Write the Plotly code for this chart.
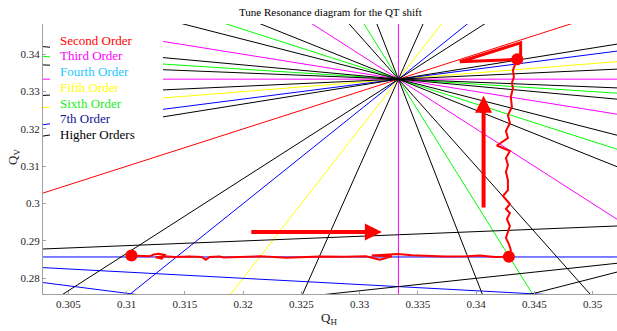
import plotly.graph_objects as go

# ---- axis window ----
x_range = [0.30283, 0.35209]
y_range = [0.2758, 0.3481]
x_tick_vals = [0.305, 0.31, 0.315, 0.32, 0.325, 0.33, 0.335, 0.34, 0.345, 0.35]
x_tick_text = ["0.305", "0.31", "0.315", "0.32", "0.325", "0.33", "0.335", "0.34", "0.345", "0.35"]
y_tick_vals = [0.28, 0.29, 0.30, 0.31, 0.32, 0.33, 0.34]
y_tick_text = ["0.28", "0.29", "0.3", "0.31", "0.32", "0.33", "0.34"]

# ---- resonance lines  m*Qx + n*Qy = p ----
res_m = [1, 3, 2, 1, 0, 4, 1, 5, 3, 1, 2, 1, 0, 5, 2, 7, 2, 1, 8, 7, 5, 4, 2, 1, 6, 4, 3, 1]
res_n = [-1, 0, 1, 2, 3, -1, -4, 1, 3, 5, 5, 6, 7, -2, -5, -1, -6, -7, 1, 2, 4, 5, 7, 8, -3, -5, -6, -8]
res_p = [0, 1, 1, 1, 1, 1, -1, 2, 2, 2, 2, 2, 2, 1, -1, 2, -1, -2, 3, 3, 3, 3, 3, 3, 1, 0, -1, -2]

legend_labels = ["Second Order", "Third Order", "Fourth Order", "Fifth Order",
                 "Sixth Order", "7th Order", "Higher Orders"]
legend_colors = ["#ff0000", "#ff00ff", "#22c8ff", "#ffff00", "#22ee22", "#141496", "#000000"]
order_line_colors = {2: "#ff0000", 3: "#ff00ff", 4: "#00ccff", 5: "#ffff00",
                     6: "#00ff00", 7: "#0000ff"}

# ---- measured tune path ----
path_qx = [0.31042, 0.31113, 0.31199, 0.31233, 0.31276, 0.31328, 0.31302, 0.31250, 0.31319,
           0.31414, 0.31542, 0.31645, 0.31680, 0.31714, 0.31800, 0.31834, 0.31972, 0.32143,
           0.32375, 0.32487, 0.32659, 0.32873, 0.33054, 0.33174, 0.33277, 0.33105, 0.33225,
           0.33328, 0.33448, 0.33560, 0.33732, 0.33921, 0.34032, 0.34161, 0.34281,
           0.34298, 0.34281, 0.34256, 0.34273, 0.34290, 0.34264, 0.34290, 0.34256, 0.34290,
           0.34230, 0.34273, 0.34273, 0.34256, 0.34273, 0.34256, 0.34290, 0.34178, 0.34273,
           0.34256, 0.34290, 0.34273, 0.34307, 0.34298, 0.34316, 0.34307, 0.34324, 0.34316,
           0.34333, 0.34353]
path_qy = [0.28610, 0.28597, 0.28589, 0.28637, 0.28656, 0.28629, 0.28530, 0.28565, 0.28589,
           0.28570, 0.28584, 0.28570, 0.28495, 0.28570, 0.28584, 0.28557, 0.28570, 0.28589,
           0.28554, 0.28570, 0.28584, 0.28576, 0.28589, 0.28495, 0.28592, 0.28610, 0.28637,
           0.28651, 0.28618, 0.28602, 0.28586, 0.28592, 0.28610, 0.28570, 0.28578,
           0.28758, 0.28918, 0.29079, 0.29240, 0.29400, 0.29588, 0.29748, 0.29855, 0.29989,
           0.30204, 0.30364, 0.30632, 0.30846, 0.31034, 0.31221, 0.31408, 0.31556, 0.31756,
           0.31944, 0.32158, 0.32372, 0.32586, 0.32854, 0.33095, 0.33229, 0.33390, 0.33577,
           0.33711, 0.33864]
tri_qx = [0.34353, 0.33861, 0.34382, 0.34382, 0.34353]
tri_qy = [0.33864, 0.33799, 0.34308, 0.33885, 0.33864]
dot_qx = [0.31042, 0.34281, 0.34353]
dot_qy = [0.28610, 0.28578, 0.33864]

# arrows: (tail_x, tail_y, tip_x, tip_y)
arrow_tail_x = [0.32058, 0.34064]
arrow_tail_y = [0.29240, 0.29855]
arrow_tip_x = [0.33191, 0.34064]
arrow_tip_y = [0.29240, 0.32889]

SERIF = "Liberation Serif"

fig = go.Figure()

# group resonance lines by order
orders = sorted(set(abs(m) + abs(n) for m, n in zip(res_m, res_n)))
for od in orders:
    xs, ys = [], []
    for m, n, p in zip(res_m, res_n, res_p):
        if abs(m) + abs(n) != od:
            continue
        if n == 0:
            xs += [p / m, p / m, None]
            ys += [y_range[0] - 0.01, y_range[1] + 0.01, None]
        else:
            xa, xb = x_range[0] - 0.01, x_range[1] + 0.01
            xs += [xa, xb, None]
            ys += [(p - m * xa) / n, (p - m * xb) / n, None]
    fig.add_trace(go.Scatter(x=xs, y=ys, mode="lines",
                             line=dict(color=order_line_colors.get(od, "#000000"), width=1),
                             hoverinfo="skip", showlegend=False))

red = "#ff0000"
fig.add_trace(go.Scatter(x=path_qx, y=path_qy, mode="lines",
                         line=dict(color=red, width=2), showlegend=False))
fig.add_trace(go.Scatter(x=tri_qx, y=tri_qy, mode="lines",
                         line=dict(color=red, width=3), showlegend=False))
fig.add_trace(go.Scatter(x=dot_qx, y=dot_qy, mode="markers",
                         marker=dict(color=red, size=12), showlegend=False))

annotations = []
for tx, ty, hx, hy in zip(arrow_tail_x, arrow_tail_y, arrow_tip_x, arrow_tip_y):
    annotations.append(dict(x=hx, y=hy, ax=tx, ay=ty, xref="x", yref="y", axref="x", ayref="y",
                            text="", showarrow=True, arrowhead=2, arrowsize=0.85,
                            arrowwidth=4, arrowcolor=red, standoff=0, startstandoff=0))

# legend block (white box + coloured text)
L, T, B = 43, 24, 294
W, H = 574, 270
def px(xp):
    return (xp - L) / W
def py(yp):
    return (B - yp) / H

legend_rows = [40.3, 55.5, 71.3, 87.3, 103.0, 118.7, 134.7]
for lab, col, yy in zip(legend_labels, legend_colors, legend_rows):
    annotations.append(dict(x=px(58), y=py(yy), xref="paper", yref="paper", text=lab,
                            showarrow=False, xanchor="left", yanchor="middle",
                            font=dict(family=SERIF, size=13, color=col)))

annotations.append(dict(x=0.5, y=py(12), xref="paper", yref="paper",
                        text="Tune Resonance diagram for the QT shift", showarrow=False,
                        xanchor="center", yanchor="middle",
                        font=dict(family=SERIF, size=11, color="#000000")))
annotations.append(dict(x=px(329), y=py(318), xref="paper", yref="paper",
                        text="Q<sub>H</sub>", showarrow=False, xanchor="center", yanchor="middle",
                        font=dict(family=SERIF, size=13, color="#222222")))
annotations.append(dict(x=px(13), y=py(157), xref="paper", yref="paper",
                        text="Q<sub>V</sub>", showarrow=False, xanchor="center", yanchor="middle",
                        textangle=-90, font=dict(family=SERIF, size=13, color="#222222")))

shapes = [dict(type="rect", xref="paper", yref="paper", x0=px(50), x1=px(163),
               y0=py(144), y1=py(23), fillcolor="white", line=dict(width=0), layer="above")]

axis_common = dict(showgrid=False, zeroline=False, showline=True, linecolor="#a0a0a0",
                   linewidth=1, ticks="inside", ticklen=3, tickcolor="#a0a0a0",
                   tickfont=dict(family=SERIF, size=11, color="#262626"), mirror=False)

fig.update_layout(
    width=617, height=331,
    margin=dict(l=L, r=0, t=T, b=331 - B, pad=0),
    paper_bgcolor="white", plot_bgcolor="white",
    font=dict(family=SERIF),
    hovermode=False,
    xaxis=dict(range=x_range, tickvals=x_tick_vals, ticktext=x_tick_text, **axis_common),
    yaxis=dict(range=y_range, tickvals=y_tick_vals, ticktext=y_tick_text, **axis_common),
    annotations=annotations, shapes=shapes,
    showlegend=False,
)

fig.write_html("out.html", config={"displayModeBar": False, "staticPlot": True},
               post_script="document.body.style.margin='0px';document.body.style.padding='0px';")
